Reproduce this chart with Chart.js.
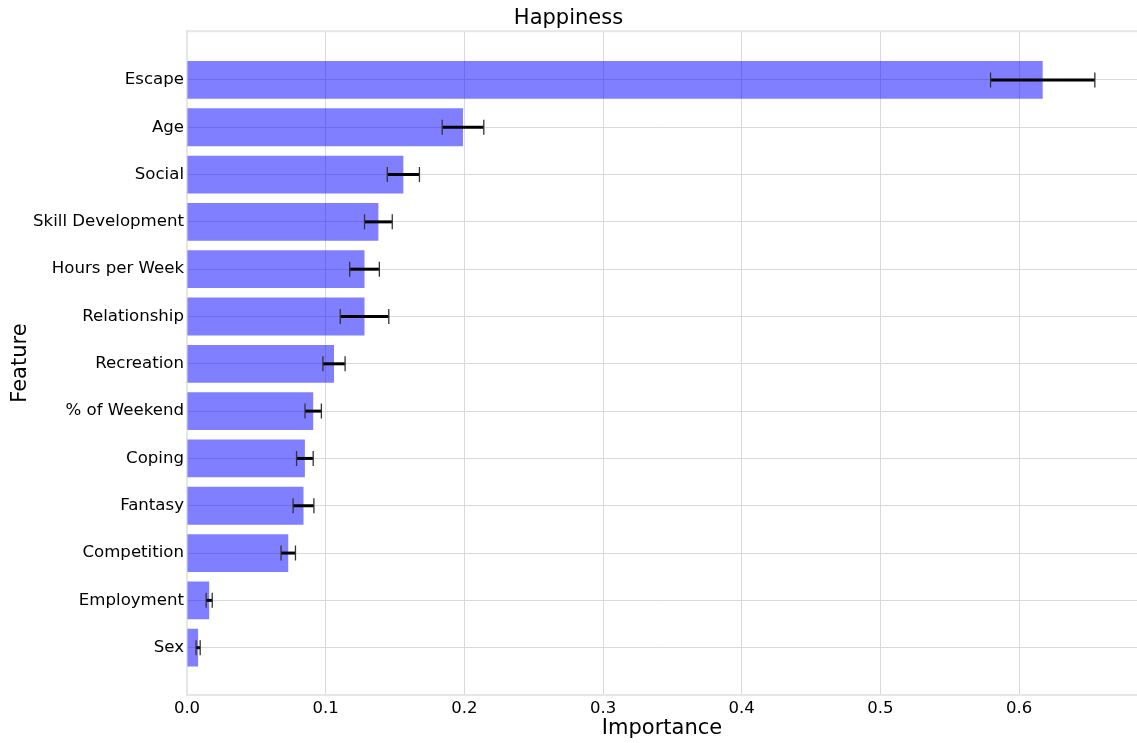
<!DOCTYPE html>
<html>
<head>
<meta charset="utf-8">
<title>Happiness – Feature Importance</title>
<script src="https://cdn.jsdelivr.net/npm/chart.js@4/dist/chart.umd.min.js"></script>
<style>
  html, body { margin: 0; padding: 0; background: #ffffff; overflow: hidden; }
  #wrap { width: 1137px; height: 743px; }
</style>
</head>
<body>
<div id="wrap"><canvas id="chart" width="1137" height="743"></canvas></div>
<script>
// Feature names, top to bottom
const categories = [
  'Escape', 'Age', 'Social', 'Skill Development', 'Hours per Week',
  'Relationship', 'Recreation', '% of Weekend', 'Coping', 'Fantasy',
  'Competition', 'Employment', 'Sex'
];
// Mean importance per feature
const importance = [
  0.617, 0.199, 0.156, 0.138, 0.128,
  0.128, 0.106, 0.091, 0.085, 0.084,
  0.073, 0.016, 0.008
];
// Standard deviation of importance per feature
const errors = [
  0.0376, 0.0150, 0.0116, 0.0100, 0.0107,
  0.0175, 0.0080, 0.0059, 0.0060, 0.0075,
  0.0052, 0.0022, 0.0015
];
// Importance axis tick values
const xTicks = [0.0, 0.1, 0.2, 0.3, 0.4, 0.5, 0.6];

const FONT = "'DejaVu Sans', 'Liberation Sans', sans-serif";
const GRID = '#d9d9d9';
const SPINE = '#e6e6e6';

// Horizontal error bars with caps, drawn on the chart's own scales
const errorBars = {
  id: 'errorBars',
  afterDatasetsDraw(chart) {
    const { ctx, scales: { x, y } } = chart;
    ctx.save();
    importance.forEach((v, i) => {
      const cy = y.getPixelForValue(i);
      const x0 = x.getPixelForValue(v - errors[i]);
      const x1 = x.getPixelForValue(v + errors[i]);
      ctx.strokeStyle = '#000000';
      ctx.lineWidth = 3;
      ctx.beginPath();
      ctx.moveTo(x0, cy);
      ctx.lineTo(x1, cy);
      ctx.stroke();
      ctx.strokeStyle = '#333333';
      ctx.lineWidth = 1.3;
      ctx.beginPath();
      ctx.moveTo(x0, cy - 7.5);
      ctx.lineTo(x0, cy + 7.5);
      ctx.moveTo(x1, cy - 7.5);
      ctx.lineTo(x1, cy + 7.5);
      ctx.stroke();
    });
    ctx.restore();
  }
};

// Top frame line of the plotting area
const topSpine = {
  id: 'topSpine',
  beforeDatasetsDraw(chart) {
    const { ctx, chartArea: a } = chart;
    ctx.save();
    ctx.strokeStyle = SPINE;
    ctx.lineWidth = 2;
    ctx.beginPath();
    ctx.moveTo(a.left, a.top);
    ctx.lineTo(a.right, a.top);
    ctx.stroke();
    ctx.restore();
  }
};

new Chart(document.getElementById('chart'), {
  type: 'bar',
  data: {
    datasets: [{
      data: importance.map((v, i) => ({ x: v, y: i })),
      backgroundColor: 'rgba(0, 0, 255, 0.5)',
      borderWidth: 0,
      categoryPercentage: 1.0,
      barPercentage: 0.8
    }]
  },
  options: {
    indexAxis: 'y',
    responsive: false,
    animation: false,
    devicePixelRatio: 1,
    layout: { padding: 0 },
    plugins: {
      legend: { display: false },
      tooltip: { enabled: false },
      title: {
        display: true,
        text: 'Happiness',
        color: '#000000',
        font: { family: FONT, size: 21, weight: 'normal', lineHeight: 1.2 },
        padding: { top: 6, bottom: 0 }
      }
    },
    scales: {
      x: {
        type: 'linear',
        position: 'bottom',
        min: 0,
        max: 0.685,
        offset: false,
        afterBuildTicks: s => { s.ticks = xTicks.map(v => ({ value: v })); },
        afterFit: s => { s.height = 48; },
        ticks: {
          color: '#000000',
          padding: 4,
          maxRotation: 0,
          font: { family: FONT, size: 16.5 },
          callback: v => Number(v).toFixed(1)
        },
        grid: { color: GRID, lineWidth: 1, drawTicks: false, offset: false },
        border: { color: SPINE, width: 2 },
        title: {
          display: true,
          text: 'Importance',
          color: '#000000',
          font: { family: FONT, size: 21, lineHeight: 1.2 },
          padding: { top: 0, bottom: 2 }
        }
      },
      y: {
        type: 'linear',
        position: 'left',
        reverse: true,
        min: -1.03,
        max: 13.0,
        offset: false,
        afterBuildTicks: s => { s.ticks = categories.map((_, i) => ({ value: i })); },
        afterFit: s => { s.width = 187; },
        ticks: {
          color: '#000000',
          padding: 3,
          font: { family: FONT, size: 16.6 },
          callback: v => categories[v] ?? ''
        },
        grid: { color: GRID, lineWidth: 1, drawTicks: false, offset: false },
        border: { color: SPINE, width: 2 },
        title: {
          display: true,
          text: 'Feature',
          color: '#000000',
          font: { family: FONT, size: 21, lineHeight: 1.2 },
          padding: { top: 8, bottom: 0 }
        }
      }
    }
  },
  plugins: [topSpine, errorBars]
});
</script>
</body>
</html>
